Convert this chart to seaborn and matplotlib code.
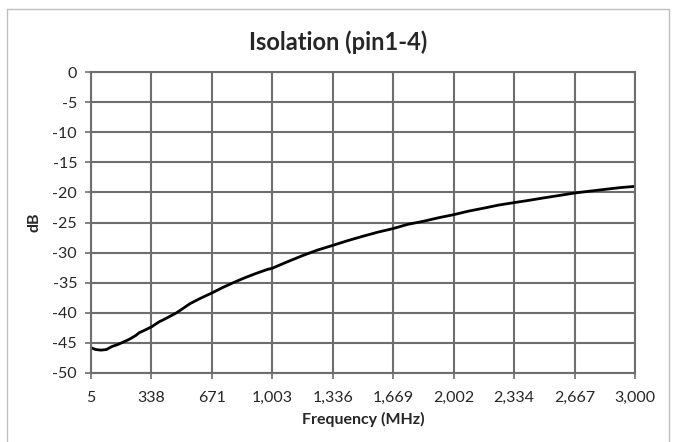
import matplotlib
matplotlib.use("Agg")
import matplotlib.pyplot as plt
import seaborn as sns
import pandas as pd
from matplotlib.patches import Rectangle

freq_mhz = [5, 30, 60, 90, 120, 150, 180, 216, 250, 271, 300, 340, 380, 420, 476, 520, 549,
            600, 671, 730, 788, 850, 910, 976, 1003, 1080, 1170, 1250, 1336, 1420, 1500,
            1585, 1669, 1750, 1835, 1920, 2002, 2085, 2170, 2250, 2334, 2420, 2500, 2585,
            2667, 2750, 2833, 2920, 3000]
isolation_db = [-45.8, -46.1, -46.2, -46.1, -45.6, -45.3, -44.9, -44.4, -43.8, -43.3, -42.9, -42.3,
                -41.5, -40.9, -40.0, -39.1, -38.5, -37.7, -36.7, -35.8, -35.0, -34.2, -33.5,
                -32.8, -32.6, -31.6, -30.5, -29.6, -28.8, -28.0, -27.3, -26.6, -26.0, -25.3,
                -24.8, -24.2, -23.7, -23.1, -22.6, -22.1, -21.7, -21.3, -20.9, -20.5, -20.1,
                -19.8, -19.5, -19.2, -19.0]
x_ticks = [5, 338, 671, 1003, 1336, 1669, 2002, 2334, 2667, 3000]
x_tick_labels = ["5", "338", "671", "1,003", "1,336", "1,669", "2,002", "2,334", "2,667", "3,000"]
y_ticks = [0, -5, -10, -15, -20, -25, -30, -35, -40, -45, -50]

df = pd.DataFrame({"Frequency (MHz)": freq_mhz, "dB": isolation_db})

sns.set_style("white")
plt.rcParams["font.family"] = ["Lato", "DejaVu Sans"]
plt.rcParams["axes.unicode_minus"] = False

fig = plt.figure(figsize=(6.73, 4.42), dpi=100)
ax = fig.add_axes([91 / 673, 1 - 373 / 442, (635 - 91) / 673, (373 - 72) / 442])

sns.lineplot(data=df, x="Frequency (MHz)", y="dB", ax=ax, color="black", linewidth=2.0)

grid_c = "#6e6e6e"
ax.set_xlim(5, 3000)
ax.set_ylim(-50, 0)
ax.set_xticks(x_ticks)
ax.set_xticklabels(x_tick_labels)
ax.set_yticks(y_ticks)
ax.grid(True, color=grid_c, linewidth=1.5)
for s in ax.spines.values():
    s.set_color(grid_c)
    s.set_linewidth(1.5)
ax.tick_params(axis="both", which="both", direction="out", length=4, width=1.2,
               color=grid_c, labelsize=11.5, bottom=True, left=True)
ax.tick_params(axis="x", pad=9)
ax.tick_params(axis="y", pad=6)
ax.set_xlabel("Frequency (MHz)", fontsize=11.5, fontweight="bold", labelpad=5)
ax.set_ylabel("dB", fontsize=11.5, fontweight="bold", labelpad=8)

fig.text(338 / 673, 1 - 42 / 442, "Isolation (pin1-4)", ha="center", va="center",
         fontsize=17, fontweight="bold")

fig.patches.append(Rectangle((7 / 673, -0.05), 662 / 673, 1.05 - 9 / 442, transform=fig.transFigure,
                             fill=False, edgecolor="#bfbfbf", linewidth=1.0))

fig.savefig("out.png", dpi=100)
